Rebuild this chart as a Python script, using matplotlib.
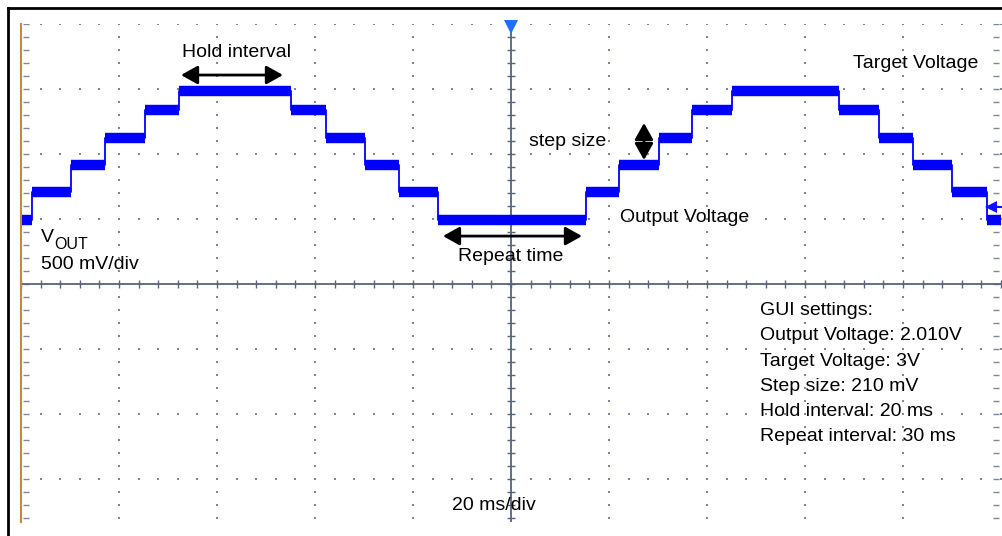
import numpy as np
import matplotlib.pyplot as plt
from matplotlib.lines import Line2D

plt.rcParams['font.family'] = ['Liberation Sans', 'DejaVu Sans']

# scope settings
volts_per_div = 0.5
ms_per_div = 20
zero_offset_div = -3.03   # where 0 V sits on the screen

# staircase: start time of each level (ms) and level (V)
step_start_ms = [-100, -97.8, -89.8, -82.9, -74.7, -67.8, -44.9, -37.8, -29.8, -22.9,
                 -14.9, 15.3, 22.0, 30.2, 36.9, 45.1, 66.9, 75.1, 82.0, 90.0, 97.1]
step_level_v = [2.01, 2.22, 2.43, 2.64, 2.85, 3.00, 2.85, 2.64, 2.43, 2.22,
                2.01, 2.22, 2.43, 2.64, 2.85, 3.00, 2.85, 2.64, 2.43, 2.22, 2.01]
end_ms = 100

gui_settings = ["GUI settings:", "Output Voltage: 2.010V", "Target Voltage: 3V",
                "Step size: 210 mV", "Hold interval: 20 ms", "Repeat interval: 30 ms"]

W, H = 1003, 536
fig = plt.figure(figsize=(W / 100, H / 100), dpi=100)
ax = fig.add_axes([21 / W, 1 - 522 / H, 980 / W, 498 / H])
ax.set_xlim(-5, 5)
ax.set_ylim(-3.66, 4)
ax.axis('off')

# graticule
grid_c = '#7d889b'
minor_x = np.arange(-5, 5.001, 0.2)
minor_y = np.arange(-3.6, 4.001, 0.2)
for gx in [-4, -3, -2, -1, 1, 2, 3, 4]:
    ax.scatter(np.full_like(minor_y, gx), minor_y, s=2, marker='s', color=grid_c, lw=0)
for gy in [-3, -2, -1, 1, 2, 3, 4]:
    ax.scatter(minor_x, np.full_like(minor_x, gy), s=2, marker='s', color=grid_c, lw=0)
ax.plot(np.full_like(minor_y, -4.95), minor_y, ls='none', marker='_', ms=4, mew=1, color=grid_c)
ax.plot(np.full_like(minor_y, 4.95), minor_y, ls='none', marker='_', ms=4, mew=1, color=grid_c)

# center axes with ticks
axis_c = '#56657b'
ax.axhline(0, color=axis_c, lw=1.3)
ax.axvline(0, color=axis_c, lw=1.3)
ax.plot(minor_x, np.zeros_like(minor_x), ls='none', marker='|', ms=6, mew=1, color=axis_c)
ax.plot(np.zeros_like(minor_y), minor_y, ls='none', marker='_', ms=6, mew=1, color=axis_c)

# trace
t_start = np.array(step_start_ms) / ms_per_div
t_end = np.array(step_start_ms[1:] + [end_ms]) / ms_per_div
lev = np.array(step_level_v) / volts_per_div + zero_offset_div
ax.step(np.append(t_start, t_end[-1]), np.append(lev, lev[-1]), where='post',
        color='#0000ff', lw=1.3)
ax.hlines(lev, t_start, t_end, color='#0000ff', lw=7.5)

# markers
ax.plot([-5, -5], [-3.66, 4], color='#c8883c', lw=1.5, clip_on=False)
ax.plot(0, 3.95, marker='v', ms=10, color='#1e6eff', mew=0, clip_on=False)
ax.plot([4.9, 5.0], [1.18, 1.18], color='#1010ff', lw=1.5, clip_on=False)
ax.plot(4.9, 1.18, marker='<', ms=8, color='#1010ff', mew=0, clip_on=False)

# annotations
fs = 14
ax.text(-3.357, 3.492, "Hold interval", fontsize=fs, ha='left', va='baseline')
ax.text(3.490, 3.323, "Target Voltage", fontsize=fs, ha='left', va='baseline')
ax.text(0.184, 2.123, "step size", fontsize=fs, ha='left', va='baseline')
ax.text(1.112, 0.954, "Output Voltage", fontsize=fs, ha='left', va='baseline')
ax.text(-0.541, 0.354, "Repeat time", fontsize=fs, ha='left', va='baseline')
ax.text(-4.796, 0.646, "V", fontsize=fs, ha='left', va='baseline')
ax.text(-4.663, 0.54, "OUT", fontsize=11.5, ha='left', va='baseline')
ax.text(-4.796, 0.231, "500 mV/div", fontsize=fs, ha='left', va='baseline')
ax.text(-0.602, -3.477, "20 ms/div", fontsize=fs, ha='left', va='baseline')
for i, line in enumerate(gui_settings):
    ax.text(2.541, -0.477 - 0.388 * i, line, fontsize=fs, ha='left', va='baseline')

arrow = dict(arrowstyle='<|-|>,head_length=0.5,head_width=0.28', mutation_scale=20,
             lw=2, color='black', shrinkA=0, shrinkB=0)
ax.annotate('', xy=(-2.327, 3.215), xytext=(-3.367, 3.215), arrowprops=arrow)
ax.annotate('', xy=(0.724, 0.738), xytext=(-0.694, 0.738), arrowprops=arrow)
ax.annotate('', xy=(1.357, 1.908), xytext=(1.357, 2.477), arrowprops=arrow)

# black frame on top and left
fig.add_artist(Line2D([8 / W, 1], [1 - 8 / H, 1 - 8 / H], transform=fig.transFigure, color='black', lw=2))
fig.add_artist(Line2D([8 / W, 8 / W], [0, 1 - 8 / H], transform=fig.transFigure, color='black', lw=2))

fig.savefig('out.png', dpi=100)
